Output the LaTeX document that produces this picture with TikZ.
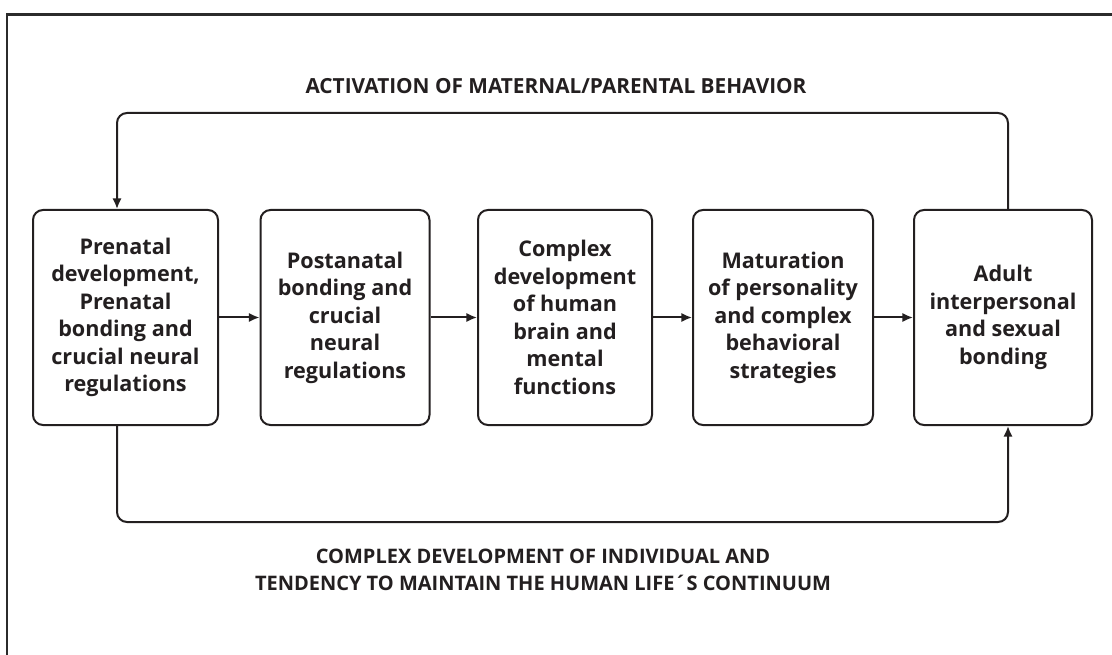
\documentclass[tikz,border=0pt]{standalone}
\usepackage{fontspec}
\setmainfont{Open Sans}
\usetikzlibrary{arrows.meta,calc}
\definecolor{ink}{HTML}{231F20}
\definecolor{frame}{HTML}{2B2B2B}
\begin{document}
\begin{tikzpicture}[x=0.75pt,y=-0.75pt,
  stagebox/.style={draw=ink,line width=1.5pt,rounded corners=7.5pt,
    minimum height=161.25pt,align=center,inner sep=0pt,
    font=\fontsize{16.2}{20.6}\selectfont\bfseries,text=ink},
  flow/.style={draw=ink,line width=1.5pt,-{Latex[length=8pt,width=7pt]}},
  loopline/.style={draw=ink,line width=1.5pt,rounded corners=7.5pt,-{Latex[length=8pt,width=7pt]}},
  caption/.style={align=center,text=ink,font=\fontsize{15}{20.3}\selectfont\bfseries}]
\useasboundingbox (0,0) rectangle (1112,655);
% frame (top and left edges)
\draw[frame,line width=2pt] (7,655) -- (7,14.5) -- (1112,14.5);
% boxes
\node[stagebox,minimum width=138.75pt] (b1) at (125.5,317.5)
  {Prenatal\\development,\\Prenatal\\bonding and\\crucial neural\\regulations};
\node[stagebox,minimum width=126.75pt] (b2) at (345,317.5)
  {Postanatal\\bonding and\\crucial\\neural\\regulations};
\node[stagebox,minimum width=130.5pt] (b3) at (565,317.5)
  {Complex\\development\\of human\\brain and\\mental\\functions};
\node[stagebox,minimum width=135pt] (b4) at (783,317.5)
  {Maturation\\of personality\\and complex\\behavioral\\strategies};
\node[stagebox,minimum width=133.5pt] (b5) at (1003,317.5)
  {Adult\\interpersonal\\and sexual\\bonding};
% flow arrows
\draw[flow] (b1) -- (b2);
\draw[flow] (b2) -- (b3);
\draw[flow] (b3) -- (b4);
\draw[flow] (b4) -- (b5);
% loops
\coordinate (tl) at (117,113);
\coordinate (tr) at (1008,113);
\coordinate (bl) at (117,522);
\coordinate (br) at (1008,522);
\draw[loopline] (tr |- b5.north) -- (tr) -- (tl) -- (tl |- b1.north);
\draw[loopline] (bl |- b1.south) -- (bl) -- (br) -- (br |- b5.south);
% captions
\node[caption,font=\fontsize{15.6}{20.3}\selectfont\bfseries] (top) at (556,86) {ACTIVATION OF MATERNAL/PARENTAL BEHAVIOR};
\node[caption] (bot) at (543,569.5) {COMPLEX DEVELOPMENT OF INDIVIDUAL AND\\TENDENCY TO MAINTAIN THE HUMAN LIFE´S CONTINUUM};
\end{tikzpicture}
\end{document}
